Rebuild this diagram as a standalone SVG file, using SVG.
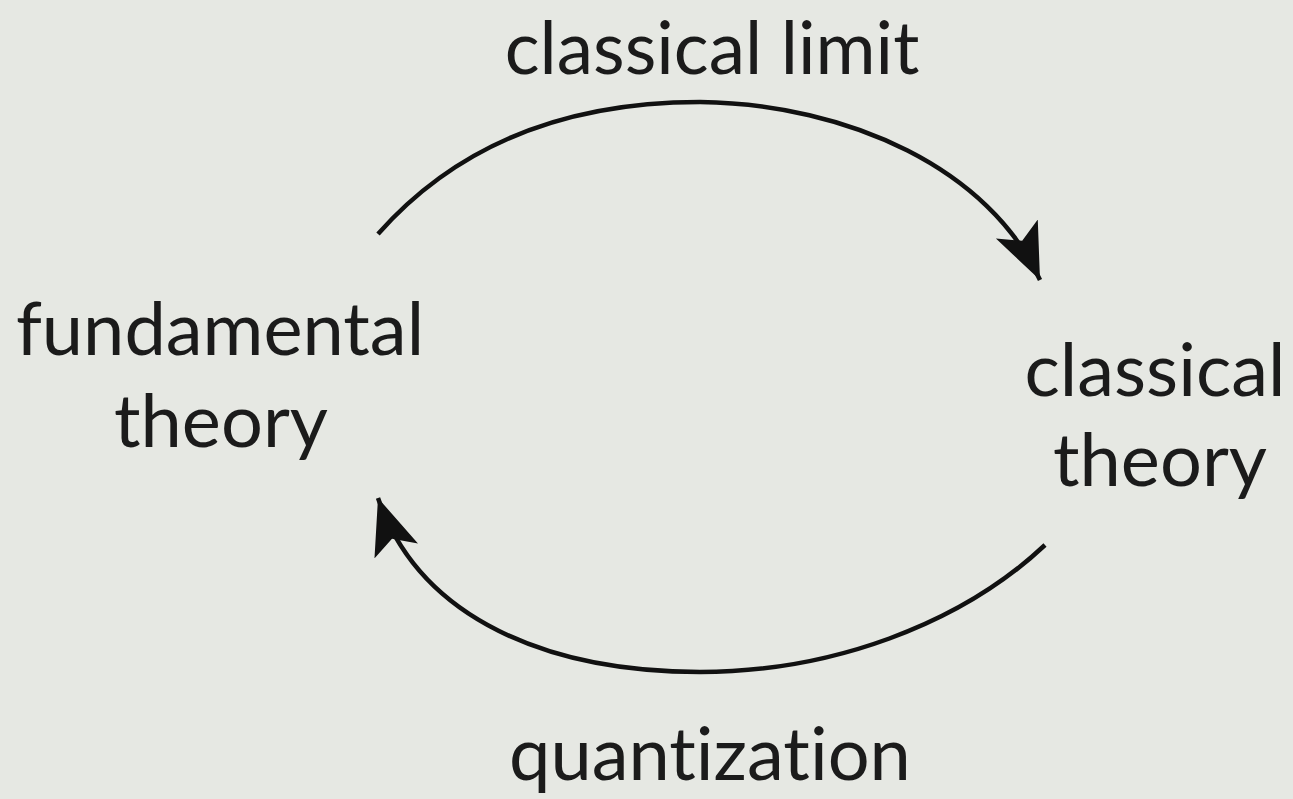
<svg xmlns="http://www.w3.org/2000/svg" width="1293" height="799" viewBox="0 0 1293 799">
<defs>
<style>
text{font-family:"Lato","Open Sans","Liberation Sans",sans-serif;font-size:74px;fill:#1b1b1b;text-anchor:middle;font-variant-ligatures:none}
.arc{fill:none;stroke:#111;stroke-width:4.5}
</style>
<marker id="ah" markerUnits="userSpaceOnUse" markerWidth="70" markerHeight="60" refX="56" refY="23" orient="auto">
<path d="M0,0 L56,23 L0,46 L13,23 z" fill="#111"/>
</marker>
</defs>
<rect width="1293" height="799" fill="#e6e8e3"/>
<g id="connectors">
<path class="arc" d="M378,234 C470,130 590,102 700,102 C850,104 990,170 1040,280" marker-end="url(#ah)"/>
<path class="arc" d="M1045,545 C960,625 830,672 700,672 C550,672 420,620 378,498" marker-end="url(#ah)"/>
</g>
<g id="label-top"><text x="712" y="74" style="font-size:73px">classical limit</text></g>
<g id="node-fundamental"><text x="220" y="355">fundamental</text><text x="221" y="447">theory</text></g>
<g id="node-classical"><text x="1155" y="396">classical</text><text x="1160" y="486">theory</text></g>
<g id="label-bottom"><text x="710" y="780">quantization</text></g>
</svg>
